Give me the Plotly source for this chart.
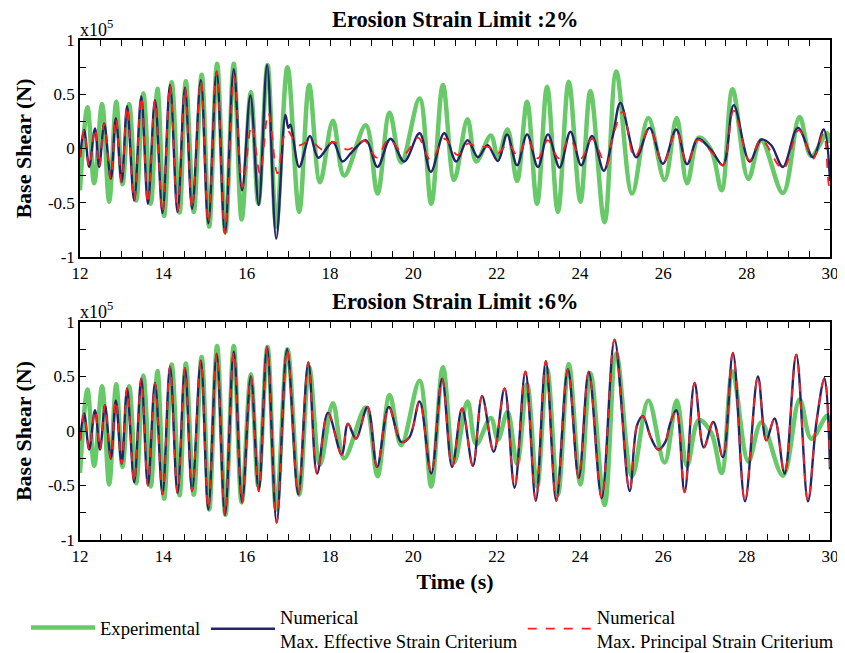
import plotly.graph_objects as go

# ---------------- data ----------------
# Experimental (same record in both panels)
t_exp = [12.00, 12.18, 12.34, 12.53, 12.70, 12.87, 13.02, 13.18, 13.35, 13.52, 13.70, 13.86,
         14.02, 14.20, 14.39, 14.54, 14.73, 14.92, 15.10, 15.29, 15.49, 15.69, 15.88, 16.10,
         16.28, 16.50, 16.71, 16.98, 17.26, 17.50, 17.76, 18.07, 18.34, 18.86, 19.14, 19.43,
         19.71, 20.15, 20.43, 20.71, 20.98, 21.30, 21.51, 21.86, 22.03, 22.26, 22.49, 22.73,
         22.97, 23.21, 23.47, 23.73, 24.01, 24.25, 24.59, 24.87, 25.25, 25.64, 26.03, 26.32,
         26.57, 26.85, 27.15, 27.40, 27.66, 28.04, 28.35, 28.87, 29.27, 29.55, 29.93, 30.00]
v_exp = [-0.385, 0.38, -0.32, 0.41, -0.49, 0.43, -0.33, 0.41, -0.48, 0.51, -0.51, 0.55,
         -0.62, 0.61, -0.59, 0.62, -0.585, 0.68, -0.72, 0.78, -0.77, 0.78, -0.655, 0.52,
         -0.51, 0.77, -0.72, 0.75, -0.585, 0.585, -0.31, 0.255, -0.25, 0.215, -0.415, 0.33,
         -0.13, 0.46, -0.51, 0.585, -0.29, 0.27, -0.12, 0.12, -0.08, 0.175, -0.30, 0.43,
         -0.51, 0.57, -0.585, 0.615, -0.49, 0.53, -0.68, 0.71, -0.415, 0.28, -0.29, 0.28,
         -0.32, 0.10, -0.015, -0.385, 0.545, -0.28, 0.077, -0.41, 0.29, -0.07, 0.14, 0.05]

# Erosion strain limit 2 % - max. effective strain criterium
t_eff2 = [12.00, 12.10, 12.22, 12.36, 12.46, 12.58, 12.74, 12.86, 13.00, 13.13, 13.30, 13.47,
          13.63, 13.80, 13.98, 14.16, 14.34, 14.52, 14.69, 14.90, 15.08, 15.28, 15.48, 15.69,
          15.89, 16.09, 16.29, 16.49, 16.71, 16.93, 17.00, 17.05, 17.26, 17.52, 17.72, 18.07,
          18.30, 18.53, 18.86, 19.14, 19.45, 19.78, 20.15, 20.42, 20.74, 21.03, 21.30, 21.55,
          21.78, 22.03, 22.25, 22.49, 22.73, 22.99, 23.23, 23.51, 23.77, 24.03, 24.29, 24.57,
          24.79, 24.97, 25.35, 25.67, 25.99, 26.31, 26.57, 26.83, 27.15, 27.43, 27.69, 28.07,
          28.35, 28.59, 28.87, 29.23, 29.59, 29.85, 30.00]
v_eff2 = [-0.08, 0.17, -0.17, 0.185, -0.17, 0.23, -0.28, 0.28, -0.31, 0.39, -0.48, 0.48,
          -0.51, 0.445, -0.595, 0.585, -0.585, 0.56, -0.555, 0.63, -0.69, 0.71, -0.785, 0.73,
          -0.385, 0.49, -0.52, 0.77, -0.83, 0.31, 0.19, 0.22, -0.17, 0.115, -0.085, 0.06,
          -0.12, -0.03, 0.077, -0.17, 0.09, -0.12, 0.14, -0.215, 0.14, -0.12, 0.077, -0.08,
          0.03, -0.115, 0.13, -0.155, 0.13, -0.17, 0.13, -0.175, 0.155, -0.155, 0.115, -0.205,
          0.12, 0.42, -0.08, 0.19, -0.14, 0.175, -0.145, 0.09, -0.015, -0.155, 0.40, -0.12,
          0.083, 0.03, -0.17, 0.19, -0.08, 0.175, -0.30]

# Erosion strain limit 2 % - max. principal strain criterium
t_pri2 = [12.00, 12.10, 12.22, 12.36, 12.46, 12.58, 12.74, 12.86, 13.00, 13.13, 13.30, 13.47,
          13.63, 13.80, 13.98, 14.16, 14.34, 14.52, 14.69, 14.90, 15.08, 15.28, 15.48, 15.70,
          15.90, 16.12, 16.32, 16.52, 16.74, 16.96, 17.24, 17.52, 17.83, 18.07, 18.43, 18.83,
          19.12, 19.41, 19.78, 20.11, 20.42, 20.75, 21.06, 21.31, 21.55, 21.79, 22.03, 22.27,
          22.51, 22.73, 22.99, 23.23, 23.49, 23.75, 24.03, 24.29, 24.63, 24.79, 25.03, 25.31,
          25.67, 25.99, 26.31, 26.57, 26.83, 27.15, 27.43, 27.69, 28.07, 28.35, 28.87, 29.25,
          29.59, 29.84, 29.97, 30.00]
v_pri2 = [-0.08, 0.17, -0.17, 0.185, -0.17, 0.23, -0.28, 0.28, -0.31, 0.39, -0.48, 0.48,
          -0.51, 0.445, -0.595, 0.585, -0.585, 0.56, -0.555, 0.63, -0.69, 0.71, -0.785, 0.667,
          -0.355, 0.215, -0.23, 0.33, -0.23, 0.17, 0.03, 0.07, -0.01, 0.06, -0.01, 0.07,
          -0.085, 0.083, -0.05, 0.10, -0.11, 0.09, -0.06, 0.046, 0.01, 0.015, -0.046, 0.046,
          -0.07, 0.09, -0.09, 0.077, -0.09, 0.09, -0.09, 0.09, -0.155, 0.11, 0.34, -0.08,
          0.185, -0.14, 0.16, -0.14, 0.08, -0.03, -0.155, 0.35, -0.11, 0.083, -0.19, 0.17,
          -0.095, 0.14, -0.33, -0.36]

# Erosion strain limit 6 % - both criteria practically coincide
t_num6 = [12.00, 12.10, 12.22, 12.36, 12.48, 12.60, 12.74, 12.86, 13.00, 13.13, 13.30, 13.47,
          13.63, 13.80, 13.98, 14.16, 14.34, 14.52, 14.69, 14.90, 15.08, 15.28, 15.48, 15.69,
          15.89, 16.10, 16.29, 16.49, 16.72, 16.97, 17.24, 17.48, 17.69, 17.95, 18.28, 18.43,
          18.62, 18.90, 19.13, 19.41, 19.71, 19.91, 20.15, 20.43, 20.69, 20.93, 21.17, 21.43,
          21.65, 21.93, 22.19, 22.43, 22.69, 22.94, 23.18, 23.43, 23.71, 23.97, 24.21, 24.52,
          24.83, 25.19, 25.37, 25.51, 25.70, 25.88, 26.05, 26.15, 26.31, 26.51, 26.75, 26.97,
          27.20, 27.43, 27.67, 27.96, 28.27, 28.47, 28.67, 28.91, 29.19, 29.47, 29.67, 29.87,
          30.00]
v_eff6 = [-0.086, 0.16, -0.17, 0.19, -0.17, 0.237, -0.255, 0.28, -0.30, 0.39, -0.47, 0.48,
          -0.50, 0.44, -0.58, 0.59, -0.57, 0.576, -0.55, 0.646, -0.72, 0.71, -0.77, 0.73,
          -0.655, 0.50, -0.55, 0.77, -0.84, 0.75, -0.58, 0.63, -0.39, 0.166, -0.215, 0.068,
          -0.07, 0.22, -0.33, 0.22, -0.10, -0.055, 0.27, -0.39, 0.48, -0.33, 0.207, -0.32,
          0.32, -0.19, 0.39, -0.52, 0.545, -0.64, 0.64, -0.64, 0.567, -0.43, 0.545, -0.615,
          0.837, -0.55, 0.053, 0.136, -0.06, -0.17, -0.10, 0.05, 0.19, -0.56, 0.44, -0.15,
          0.083, -0.24, 0.715, -0.646, 0.50, -0.086, 0.115, -0.39, 0.70, -0.646, 0.068, 0.484,
          -0.35]
v_pri6 = list(v_eff6)

y_tickvals = [-1, -0.5, 0, 0.5, 1]
y_ticktext = ["-1", "-0.5", "0", "0.5", "1"]
x_tickvals = [12, 14, 16, 18, 20, 22, 24, 26, 28, 30]

names = ["Experimental",
         "Numerical<br>Max. Effective Strain Criterium",
         "Numerical<br>Max. Principal Strain Criterium"]
panel_titles = ["<b>Erosion Strain Limit :2%</b>", "<b>Erosion Strain Limit :6%</b>"]

# ---------------- styles ----------------
GREEN = "#67C967"
NAVY = "#24246A"
RED = "#FF1E1E"
FONT = "Liberation Serif, Times New Roman, Times, serif"

fig = go.Figure()

def add_panel(xa, ya, t_b, v_b, t_r, v_r, show):
    fig.add_trace(go.Scatter(x=t_exp, y=v_exp, mode="lines", name=names[0],
                             line=dict(color=GREEN, width=4.5, shape="spline", smoothing=1.0),
                             xaxis=xa, yaxis=ya, showlegend=show, legend="legend"))
    fig.add_trace(go.Scatter(x=t_b, y=v_b, mode="lines", name=names[1],
                             line=dict(color=NAVY, width=2.4, shape="spline", smoothing=1.0),
                             xaxis=xa, yaxis=ya, showlegend=show, legend="legend2"))
    fig.add_trace(go.Scatter(x=t_r, y=v_r, mode="lines", name=names[2],
                             line=dict(color=RED, width=1.8, dash="dash", shape="spline", smoothing=1.0),
                             xaxis=xa, yaxis=ya, showlegend=show, legend="legend2"))

add_panel("x", "y", t_eff2, v_eff2, t_pri2, v_pri2, True)
add_panel("x2", "y2", t_num6, v_eff6, t_num6, v_pri6, False)

axis_common = dict(showline=True, linecolor="black", linewidth=1.5, mirror="ticks",
                   ticks="inside", ticklen=6, tickwidth=1.2, tickcolor="black",
                   showgrid=False, zeroline=False, automargin=False,
                   tickfont=dict(family=FONT, size=17, color="black"))

xaxis_common = dict(axis_common, range=[12, 30], tickvals=x_tickvals,
                    ticktext=[str(v) for v in x_tickvals],
                    minor=dict(dtick=0.5, tick0=12, ticks="inside", ticklen=6,
                               tickcolor="black", tickwidth=1.2, showgrid=False))
yaxis_common = dict(axis_common, range=[-1, 1], tickvals=y_tickvals, ticktext=y_ticktext,
                    minor=dict(dtick=0.25, tick0=0, ticks="inside", ticklen=6,
                               tickcolor="black", tickwidth=1.2, showgrid=False),
                    title=dict(text="<b>Base Shear (N)</b>", standoff=10,
                               font=dict(family=FONT, size=22, color="black")))

legend_common = dict(orientation="h", xanchor="left", yanchor="top",
                     font=dict(family=FONT, size=18.6, color="black"),
                     itemwidth=64, traceorder="normal", bgcolor="rgba(0,0,0,0)")

# page body has an 8 px default margin: figure is sized so the plot areas land
# at x 80-830 and y 40-257 / 322-540 of the 845x653 window
fig.update_layout(
    width=837, height=645,
    margin=dict(l=72, r=15, t=32, b=113, autoexpand=False),
    paper_bgcolor="white", plot_bgcolor="white",
    font=dict(family=FONT, color="black"),
    xaxis=dict(xaxis_common, domain=[0, 1], anchor="y"),
    yaxis=dict(yaxis_common, domain=[0.566, 1], anchor="x"),
    xaxis2=dict(xaxis_common, domain=[0, 1], anchor="y2",
                title=dict(text="<b>Time (s)</b>", standoff=8,
                           font=dict(family=FONT, size=22, color="black"))),
    yaxis2=dict(yaxis_common, domain=[0, 0.436], anchor="x2"),
    legend=dict(legend_common, x=-0.072, y=-0.138),
    legend2=dict(legend_common, x=0.168, y=-0.116),
    showlegend=True,
)

for ttl, ypos in zip(panel_titles, [1.040, 0.478]):
    fig.add_annotation(text=ttl, xref="paper", yref="paper", x=0.5, y=ypos,
                       xanchor="center", yanchor="middle", showarrow=False,
                       font=dict(family=FONT, size=22.5, color="black"))

for ypos in [0.996, 0.432]:
    fig.add_annotation(text="x10<sup>5</sup>", xref="paper", yref="paper", x=-0.003, y=ypos,
                       xanchor="left", yanchor="bottom", showarrow=False,
                       font=dict(family=FONT, size=18, color="black"))

fig.write_html("out.html")
